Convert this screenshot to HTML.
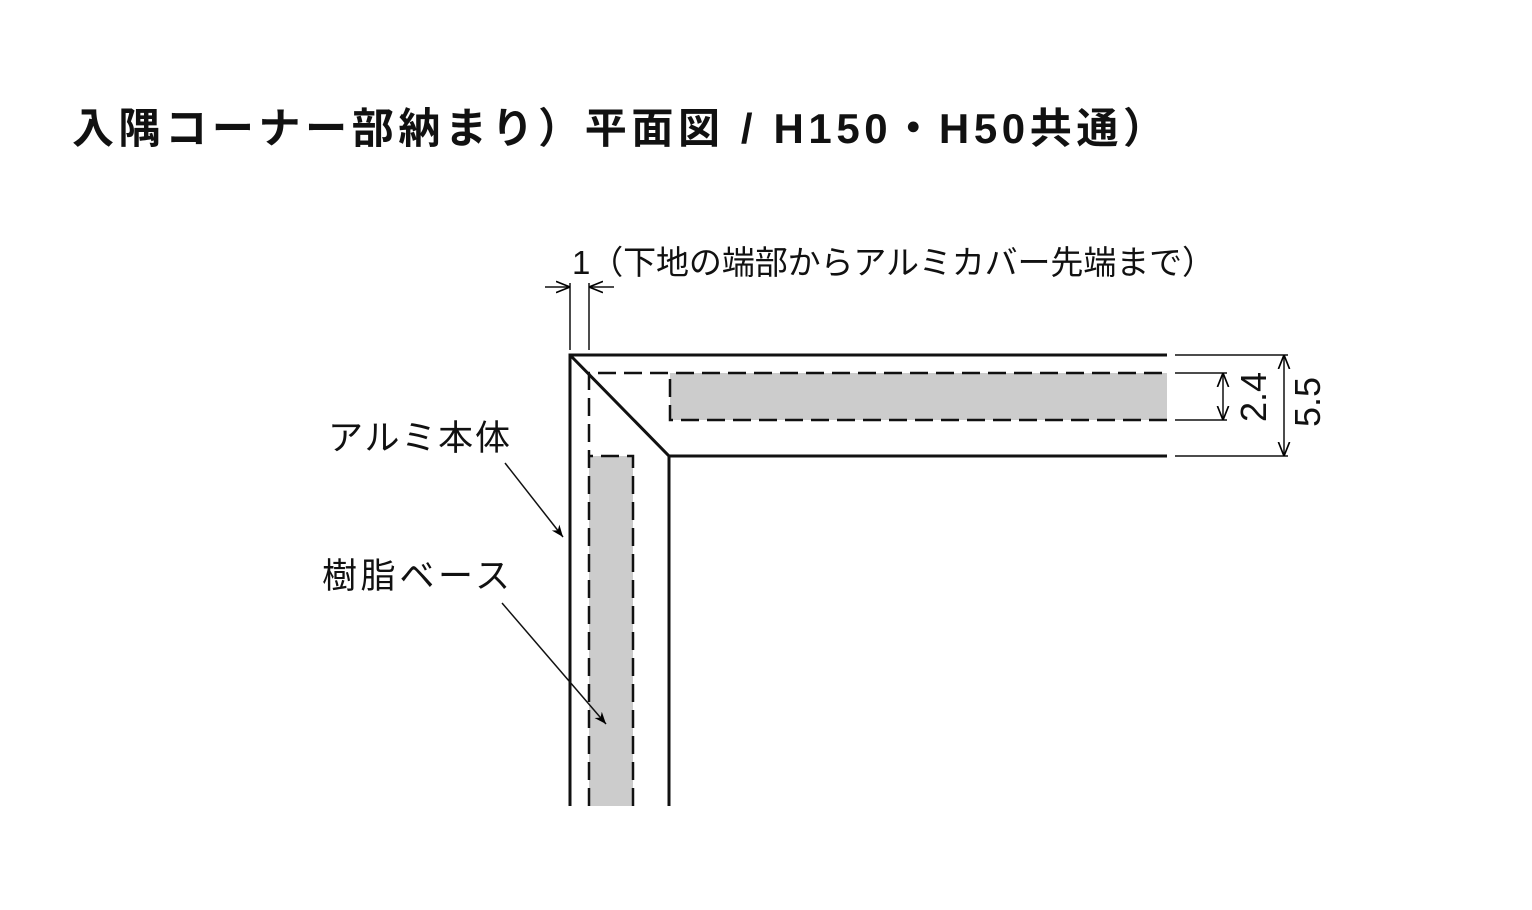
<!DOCTYPE html>
<html><head><meta charset="utf-8"><style>
html,body{margin:0;padding:0;background:#fff;}
body{width:1532px;height:910px;overflow:hidden;position:relative;}
</style></head><body>
<svg width="1532" height="910" viewBox="0 0 1532 910" xmlns="http://www.w3.org/2000/svg" style="position:absolute;left:0;top:0">
<defs>
<marker id="a" viewBox="0 0 10 10" refX="10" refY="5" markerWidth="12" markerHeight="12" markerUnits="userSpaceOnUse" orient="auto"><path d="M0,1 L10,5 L0,9 L3,5z" fill="#000"/></marker>
<marker id="b" viewBox="0 0 10 10" refX="10" refY="5" markerWidth="14" markerHeight="14" markerUnits="userSpaceOnUse" orient="auto"><path d="M0,1 L10,5 L0,9" fill="none" stroke="#000" stroke-width="1.2"/></marker>
</defs>
<text x="72" y="143" textLength="1093" lengthAdjust="spacing" font-family="'Liberation Sans','Noto Sans CJK JP',sans-serif" font-size="42" font-weight="bold" fill="#111">入隅コーナー部納まり）平面図 / H150・H50共通）</text>
<text x="572" y="274" textLength="643" lengthAdjust="spacing" font-family="'Liberation Sans','Noto Sans CJK JP',sans-serif" font-size="33" fill="#111">1（下地の端部からアルミカバー先端まで）</text>
<text x="328" y="450" textLength="182" lengthAdjust="spacing" font-family="'Liberation Sans','Noto Sans CJK JP',sans-serif" font-size="35" fill="#111">アルミ本体</text>
<text x="322" y="588" textLength="188" lengthAdjust="spacing" font-family="'Liberation Sans','Noto Sans CJK JP',sans-serif" font-size="35" fill="#111">樹脂ベース</text>
<rect x="670" y="373" width="497" height="47" fill="#ccc"/>
<rect x="589" y="456" width="44" height="350" fill="#ccc"/>
<g stroke="#111" stroke-width="3" fill="none">
<polyline points="570,806 570,355 1167,355"/>
<polyline points="570,355 669,456 1167,456"/>
<line x1="669" y1="456" x2="669" y2="806"/>
</g>
<g stroke="#111" stroke-width="2.5" fill="none" stroke-dasharray="18,8">
<polyline points="589,806 589,373 1167,373"/>
<polyline points="1167,420 670,420 670,373"/>
<polyline points="633,806 633,456 589,456"/>
</g>
<g stroke="#111" stroke-width="1.5" fill="none">
<line x1="570" y1="283" x2="570" y2="350"/>
<line x1="589" y1="283" x2="589" y2="350"/>
<line x1="545" y1="287" x2="570" y2="287" marker-end="url(#b)"/>
<line x1="614" y1="287" x2="589" y2="287" marker-end="url(#b)"/>
<line x1="1175" y1="355" x2="1288" y2="355"/>
<line x1="1175" y1="456" x2="1288" y2="456"/>
<line x1="1175" y1="373" x2="1227" y2="373"/>
<line x1="1175" y1="420" x2="1227" y2="420"/>
<line x1="1223" y1="396" x2="1223" y2="373" marker-end="url(#b)"/>
<line x1="1223" y1="396" x2="1223" y2="420" marker-end="url(#b)"/>
<line x1="1284" y1="405" x2="1284" y2="355" marker-end="url(#b)"/>
<line x1="1284" y1="405" x2="1284" y2="456" marker-end="url(#b)"/>
<line x1="505" y1="463" x2="563" y2="537" marker-end="url(#a)"/>
<line x1="502" y1="603" x2="606" y2="724" marker-end="url(#a)"/>
</g>
<text transform="translate(1266,397) rotate(-90)" text-anchor="middle" font-family="'Liberation Sans',sans-serif" font-size="36" fill="#111">2.4</text>
<text transform="translate(1320,402) rotate(-90)" text-anchor="middle" font-family="'Liberation Sans',sans-serif" font-size="36" fill="#111">5.5</text>
</svg>
</body></html>
